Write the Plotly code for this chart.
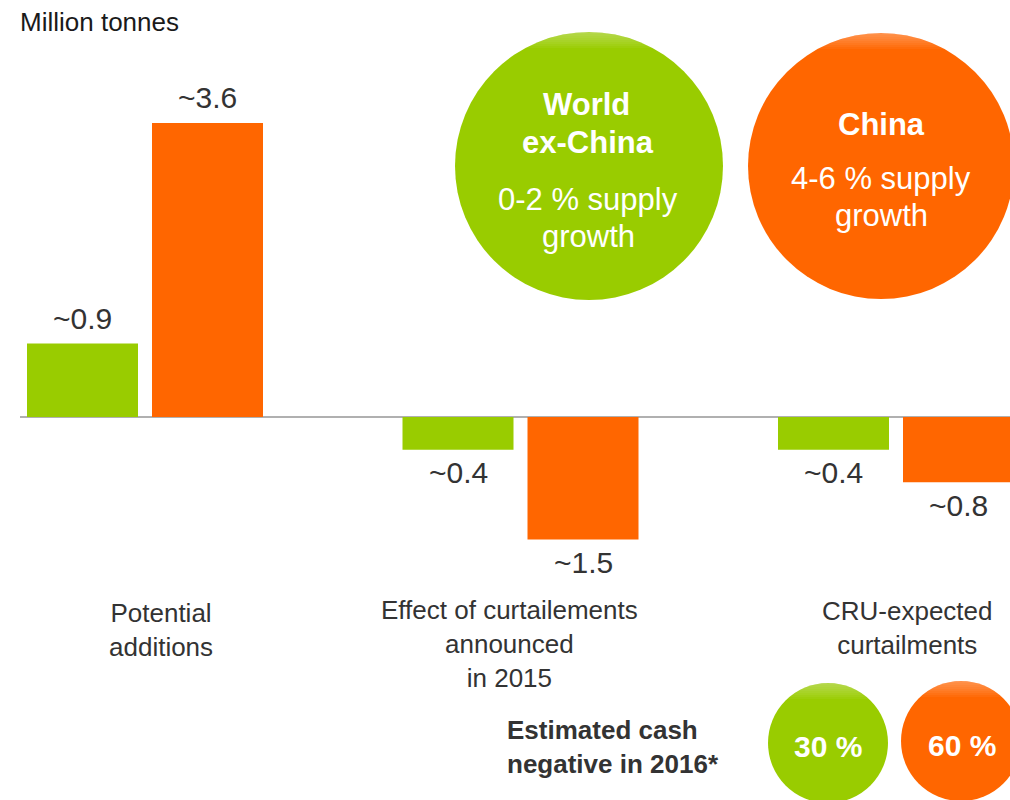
import math
import plotly.graph_objects as go

# Supply change by category, million tonnes
categories = ["Potential<br>additions",
              "Effect of curtailements<br>announced<br>in 2015",
              "CRU-expected<br>curtailments"]
world_ex_china = [0.9, -0.4, -0.4]
china = [3.6, -1.5, -0.8]
cash_negative_share = {"World ex-China": "30 %", "China": "60 %"}

GREEN = "#99cc00"
ORANGE = "#ff6600"
DARK = "#333333"
FONT = "Liberation Sans, Arial, sans-serif"

W, H = 1010, 800
ML = 20
x_pos = list(range(len(categories)))

# axis geometry (pixels per category / per million tonnes)
unit_x = 375.5
unit_y = 81.7
zero_px = 417
x_lo = -125 / unit_x
x_hi = x_lo + (W - ML) / unit_x
y_hi = zero_px / unit_y
y_lo = -(H - zero_px) / unit_y

bar_w = 111 / unit_x
off_green = -118 / unit_x
off_orange = 7 / unit_x


def px(x):
    return (x - ML) / (W - ML)


def py(y):
    return (H - y) / H


fig = go.Figure()
fig.add_trace(go.Bar(x=x_pos, y=world_ex_china, name="World ex-China",
                     marker=dict(color=GREEN, line=dict(width=0)),
                     width=bar_w, offset=off_green, hoverinfo="skip"))
fig.add_trace(go.Bar(x=x_pos, y=china, name="China",
                     marker=dict(color=ORANGE, line=dict(width=0)),
                     width=bar_w, offset=off_orange, hoverinfo="skip"))

annotations = []

# value labels over/under each bar
for series, off in ((world_ex_china, off_green), (china, off_orange)):
    for xi, v in zip(x_pos, series):
        annotations.append(dict(
            x=xi + off + bar_w / 2, y=v, xref="x", yref="y",
            text="~%.1f" % abs(v), showarrow=False,
            yanchor="middle", yshift=25 if v > 0 else -23,
            font=dict(family=FONT, size=30, color=DARK)))


def label(text, x, y, size, color=DARK, bold=False, xanchor="center"):
    if bold:
        text = "<b>%s</b>" % text
    annotations.append(dict(
        x=px(x), y=py(y), xref="paper", yref="paper", text=text,
        showarrow=False, xanchor=xanchor, yanchor="middle", align=xanchor,
        font=dict(family=FONT, size=size, color=color)))


label("Million tonnes", 18, 22, 26, color="#1a1a1a", xanchor="left")

# category labels
label(categories[0], 161, 630, 26)
label(categories[1], 509, 644, 26)
label(categories[2], 907, 628, 26)

label("Estimated cash<br>negative in 2016*", 505, 747, 26, bold=True,
      xanchor="left")

# circle callouts
circles = [
    (589, 166, 134, GREEN),
    (881, 166, 133, ORANGE),
    (828, 743, 60, GREEN),
    (961, 741, 60, ORANGE),
]
shapes = []
for cx, cy, r, col in circles:
    shapes.append(dict(type="circle", xref="paper", yref="paper",
                       x0=px(cx - r), x1=px(cx + r),
                       y0=py(cy + r), y1=py(cy - r),
                       fillcolor=col, line=dict(width=0), layer="above"))
    # soft highlight along the top rim, built from thin stacked segments
    for h in range(2, 18, 2):
        yc = cy - r + h
        half = math.acos((cy - yc) / r)
        pts = []
        n = 30
        for k in range(n + 1):
            t = -half + 2 * half * k / n
            pts.append((px(cx + r * math.sin(t)), py(cy - r * math.cos(t))))
        path = "M " + " L ".join("%.5f,%.5f" % p for p in pts) + " Z"
        shapes.append(dict(type="path", xref="paper", yref="paper", path=path,
                           fillcolor="rgba(255,255,255,0.045)",
                           line=dict(width=0), layer="above"))

label("World", 586, 104, 31, color="white", bold=True)
label("ex-China", 588, 142, 31, color="white", bold=True)
label("0-2 % supply", 588, 199, 31, color="white")
label("growth", 588, 236, 31, color="white")

label("China", 881, 124, 31, color="white", bold=True)
label("4-6 % supply", 881, 178, 31, color="white")
label("growth", 881, 215, 31, color="white")

label(cash_negative_share["World ex-China"], 828, 746, 30, color="white",
      bold=True)
label(cash_negative_share["China"], 962, 745, 30, color="white", bold=True)

fig.update_layout(
    width=W, height=H,
    margin=dict(l=ML, r=0, t=0, b=0),
    paper_bgcolor="white", plot_bgcolor="white",
    showlegend=False,
    xaxis=dict(range=[x_lo, x_hi], visible=False, fixedrange=True),
    yaxis=dict(range=[y_lo, y_hi], showgrid=False, showticklabels=False,
               ticks="", showline=False, zeroline=True,
               zerolinecolor="#b0b0b0", zerolinewidth=1.5, fixedrange=True),
    annotations=annotations,
    shapes=shapes,
)

fig.write_html("out.html")
